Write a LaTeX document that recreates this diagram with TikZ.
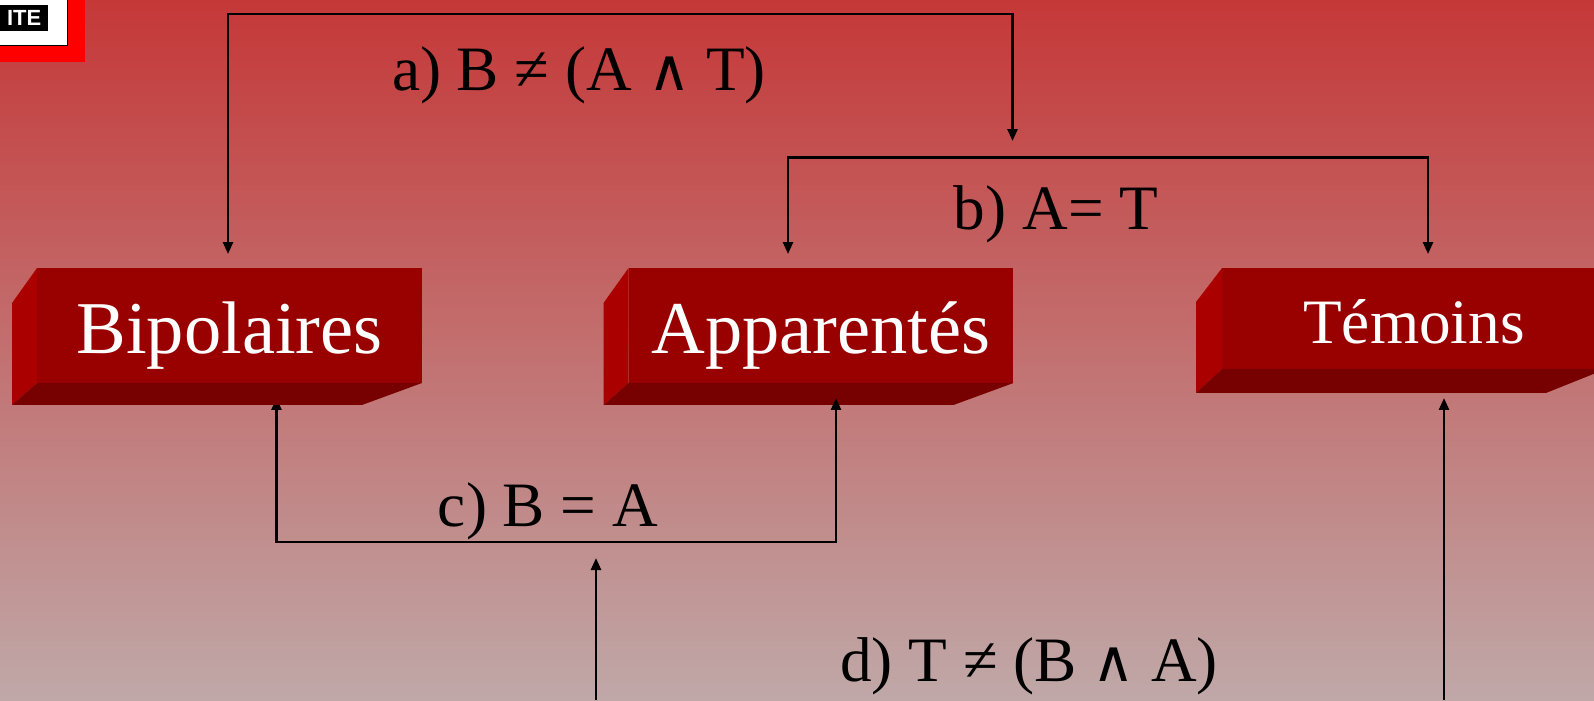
\documentclass[tikz,border=0pt]{standalone}
\usepackage{fontspec}
\usepackage{xcolor}
\setmainfont{Liberation Serif}
\setsansfont{Liberation Sans}
\newfontfamily\wedgefont{DejaVu Sans}
\usetikzlibrary{arrows.meta,calc}
\definecolor{bgtop}{RGB}{197,56,56}
\definecolor{bgbot}{RGB}{192,168,168}
\definecolor{facefront}{HTML}{990000}
\definecolor{faceside}{HTML}{AA0000}
\definecolor{facelow}{HTML}{770000}
\definecolor{logored}{HTML}{FF0000}
\newcommand{\andsym}{{\wedgefont\fontsize{33}{36}\selectfont ∧}}

\begin{document}
\begin{tikzpicture}[
      x=0.02cm, y=-0.02cm,
      front/.style={fill=facefront, inner sep=0pt, outer sep=0pt, text=white, align=center,
                 minimum width=7.7cm, minimum height=2.3cm, text height=1.7cm, text depth=0.6cm,
                 font=\fontsize{42.4}{44}\selectfont},
      frontlow/.style={front, minimum width=7.68cm, minimum height=2.02cm, text height=1.5cm,
                 text depth=0.52cm, font=\fontsize{36}{40}\selectfont},
      side/.style={fill=faceside},
      low/.style={fill=facelow},
      lab/.style={anchor=base, inner sep=0pt, font=\fontsize{36}{40}\selectfont},
      arr/.style={-{Triangle[length=0.24cm,width=0.2cm]}, line width=0.05cm, black},
      arrb/.style={{Triangle[length=0.24cm,width=0.2cm]}-{Triangle[length=0.24cm,width=0.2cm]},
                 line width=0.05cm, black}]
    \useasboundingbox (0,0) rectangle (1594,700);
    \shade[top color=bgtop, bottom color=bgbot] (0,0) rectangle (1594,700);

    % corner badge
    \node[fill=logored, inner sep=0pt, minimum width=1.7cm, minimum height=1.24cm, anchor=south east] (logoback) at (85,62) {};
    \node[fill=white, draw=black, line width=0.4pt, inner sep=0pt, minimum width=1.36cm, minimum height=0.92cm, anchor=south east] (logopage) at (68,46) {};
    \node[fill=black, text=white, inner sep=0pt, minimum width=1.1cm, minimum height=0.52cm, anchor=south east,
          font=\sffamily\bfseries\fontsize{12.5}{14}\selectfont] (logotag) at (48.5,31) {\hspace*{0.14cm}ITE};

    % Apparentes and Temoins first, their lower arrows lie on top
    \node[front] (app) at (821,325.5) {Apparentés};
    \fill[side] (app.north west) -- ++(-25,35) -- ++(0,102) -- (app.south west) -- cycle;
    \fill[low] (app.south west) -- ++(-25,22) -- ($(app.south east)+(-60,22)$) -- (app.south east) -- cycle;
    \node[frontlow] (tem) at (1414,318.5) {Témoins};
    \fill[side] (tem.north west) -- ++(-26,34) -- ++(0,91) -- (tem.south west) -- cycle;
    \fill[low] (tem.south west) -- ++(-26,24) -- ($(tem.south east)+(-60,24)$) -- (tem.south east) -- cycle;

    \draw[arrb] ([shift={(47,15)}]$(app.south -| 229.5,0)$) -- ++(0,144) -| ([shift={(15,15)}]app.south);

    % Bipolaires hides the left tip
    \node[front] (bip) at (229.5,325.5) {Bipolaires};
    \fill[side] (bip.north west) -- ++(-25,35) -- ++(0,102) -- (bip.south west) -- cycle;
    \fill[low] (bip.south west) -- ++(-25,22) -- ($(bip.south east)+(-60,22)$) -- (bip.south east) -- cycle;

    \coordinate (blink) at (1012.5,141);
    \coordinate (clink) at (596,558);
    \coordinate (dleft) at (596,700);
    \coordinate (dright) at (1444,700);

    \draw[arrb] ([shift={(-1.5,-14)}]bip.north) -- ++(0,-240) -| (blink);
    \draw[arrb] ([shift={(-33,-14)}]app.north) -- ++(0,-96.5) -| ([shift={(14,-14)}]tem.north);
    \draw[arr] (dleft) -- (clink);
    \draw[arr] (dright) -- ([shift={(30,29)}]tem.south);

    \node[lab] (laba) at (579,90) {a) B ≠ (A \andsym{} T)};
    \node[lab] (labb) at (1056,229) {b) A= T};
    \node[lab] (labc) at (548,526.5) {c) B = A};
    \node[lab] (labd) at (1029,681) {d) T ≠ (B \andsym{} A)};
  \end{tikzpicture}
\end{document}
